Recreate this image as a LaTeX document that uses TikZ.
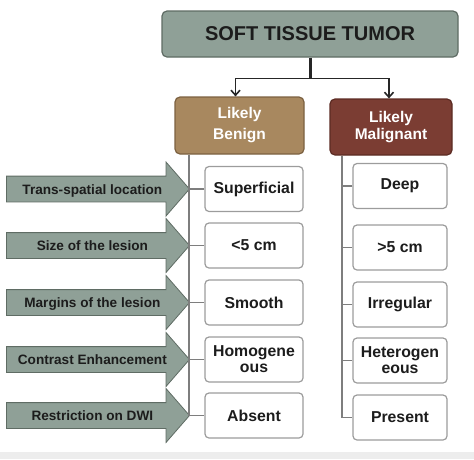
\documentclass[tikz,border=0pt]{standalone}
\usepackage{fontspec}
\setmainfont{Liberation Sans}
\usepackage{tikz}
\usetikzlibrary{arrows.meta,shapes.arrows,positioning}

\definecolor{tumorfill}{HTML}{8FA097}
\definecolor{tumorline}{HTML}{5F6C64}
\definecolor{benignfill}{HTML}{A8885F}
\definecolor{benignline}{HTML}{7C6141}
\definecolor{malignfill}{HTML}{7B3D33}
\definecolor{malignline}{HTML}{5C2B23}
\definecolor{boxline}{HTML}{9C9C9C}
\definecolor{branchline}{HTML}{7E7E7E}
\definecolor{darktext}{HTML}{1C1C1C}

\begin{document}
\begin{tikzpicture}[x=1pt,y=-1pt]
	\useasboundingbox (0,0) rectangle (474,459);
	\fill[black!7] (0,452) rectangle (474,459);

	\begin{scope}[every node/.style={rounded corners=5pt,line width=1.2pt,font=\bfseries}]
		\node[draw=tumorline,fill=tumorfill,text=darktext,minimum width=296pt,minimum height=46pt,
			font=\bfseries\fontsize{20}{22}\selectfont] (T) at (310,34) {SOFT TISSUE TUMOR};
		\node[draw=benignline,fill=benignfill,text=white,minimum width=129pt,minimum height=57pt,
			align=center,font=\bfseries\fontsize{15.5}{21}\selectfont] (B) at (239.5,125.5) {Likely\\Benign};
		\node[draw=malignline,fill=malignfill,text=white,minimum width=122pt,minimum height=56pt,
			align=center,font=\bfseries\fontsize{15.5}{17}\selectfont] (M) at (391,127) {Likely\\Malignant};
	\end{scope}

	\begin{scope}[every node/.style={draw=boxline,fill=white,rounded corners=4pt,line width=1.2pt,
			text=darktext,align=center,minimum height=45pt,font=\bfseries\fontsize{15.8}{16}\selectfont}]
		\node[minimum width=98pt] (B1) at (254,189) {Superficial};
		\node[minimum width=98pt] (B2) at (254,245.5) {<5 cm};
		\node[minimum width=98pt] (B3) at (254,302.5) {Smooth};
		\node[minimum width=98pt] (B4) at (254,359.5) {Homogene\\ous};
		\node[minimum width=98pt] (B5) at (254,415.5) {Absent};

		\node[minimum width=94pt] (M1) at (400,186) {Deep};
		\node[minimum width=94pt] (M2) at (400,247.5) {>5 cm};
		\node[minimum width=94pt] (M3) at (400,304.5) {Irregular};
		\node[minimum width=94pt] (M4) at (400,360.5) {Heterogen\\eous};
		\node[minimum width=94pt] (M5) at (400,417.5) {Present};
	\end{scope}

	\begin{scope}[every node/.style={single arrow,draw=tumorline,fill=tumorfill,line width=0.8pt,
			minimum height=183pt,minimum width=53pt,single arrow head extend=14pt,
			single arrow tip angle=98,single arrow head indent=0pt,
			text height=10pt,text depth=0pt,inner ysep=7.5pt,
			anchor=tip,text=darktext,font=\bfseries\fontsize{13.6}{15}\selectfont}]
		\node (F1) at (190,189) {Trans-spatial location};
		\node (F2) at (190,245.5) {Size of the lesion};
		\node (F3) at (190,302.5) {Margins of the lesion};
		\node (F4) at (190,359.5) {Contrast Enhancement};
		\node (F5) at (190,415.5) {Restriction on DWI};
	\end{scope}

	\coordinate (bl) at (189,0);
	\coordinate (br) at (342,0);

	\begin{scope}[every path/.style={draw=branchline,line width=1.5pt}]
		\path (B.south -| bl) |- (B5.west);
		\path (M.south -| br) |- (M5.west);
		\foreach \n in {B1,B2,B3,B4} \path (\n.west) -- (\n.west -| bl);
		\foreach \n in {M1,M2,M3,M4} \path (\n.west) -- (\n.west -| br);
	\end{scope}

	\draw[line width=3pt,black!85] (T.south) -- ++(0,21) coordinate (S);
	\begin{scope}[>={Straight Barb[length=5pt,width=9pt]},line width=1.6pt,black!85]
		\draw[->] (S) -| ([xshift=-4pt]B.north);
		\draw[->] (S) -| ([xshift=-2pt]M.north);
	\end{scope}
\end{tikzpicture}
\end{document}
